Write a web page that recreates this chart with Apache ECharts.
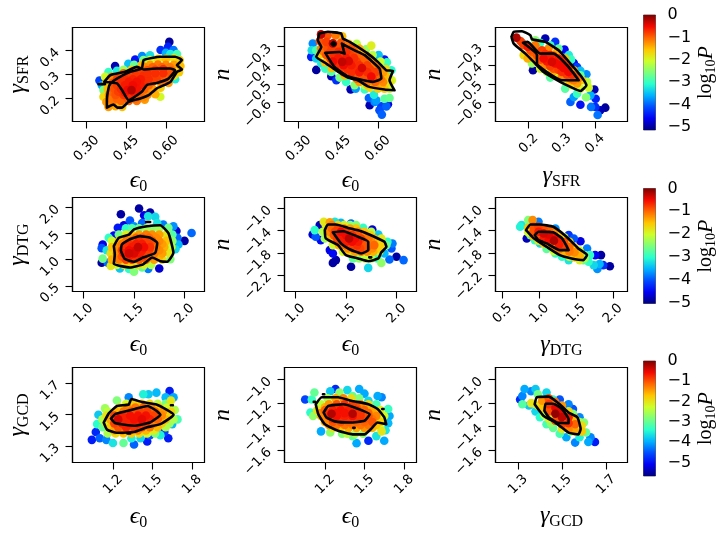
<!DOCTYPE html>
<html>
<head>
<meta charset="utf-8">
<style>html,body{margin:0;background:#fff}#chart{width:722px;height:534px}</style>
<script src="https://cdn.jsdelivr.net/npm/echarts@6/dist/echarts.min.js"></script>
</head>
<body>
<div id="chart"></div>
<script>
// points are [x, y, log10P]
const p1 = [[.613,.436,-5],[.608,.415,-4.4],[.58,.402,-4.3],[.629,.402,-3.9],[.6,.39,-3.6],[.54,.38,-3.3],[.51,.377,-3.8],[.642,.385,-2.9],[.617,.385,-3.2],
  [.484,.362,-4.5],[.515,.36,-2.6],[.54,.36,-2],[.57,.365,-1.7],[.6,.365,-1.5],[.63,.368,-1.8],[.652,.36,-1.6],
  [.458,.345,-3.5],[.408,.335,-4.9],[.48,.34,-2.7],[.51,.34,-1.5],[.54,.34,-1.3],[.57,.342,-1.1],[.6,.34,-1.2],[.63,.34,-1.3],[.655,.335,-1.5],
  [.383,.31,-3],[.415,.315,-3.2],[.44,.32,-2.4],[.47,.32,-1.6],[.5,.318,-1.1],[.53,.318,-.9],[.56,.32,-.8],[.59,.322,-.7],[.62,.318,-1],[.65,.31,-1.6],
  [.37,.29,-2],[.395,.29,-1.2],[.425,.295,-1],[.455,.295,-.8],[.485,.295,-.75],[.515,.295,-.7],[.545,.295,-.8],[.575,.295,-.9],[.605,.295,-1],[.635,.28,-3.2],[.63,.295,-1.7],
  [.349,.275,-4.2],[.358,.255,-3.6],[.375,.265,-1.6],[.4,.265,-.9],[.43,.27,-.7],[.46,.27,-.6],[.49,.27,-.55],[.52,.27,-.7],[.55,.27,-.9],[.58,.27,-1.1],[.61,.265,-1.3],
  [.364,.235,-2.6],[.38,.24,-1.5],[.405,.24,-.9],[.43,.24,-.7],[.455,.235,-.5],[.47,.235,-.25],[.49,.24,-.55],[.52,.24,-1],[.55,.24,-1.3],[.58,.245,-1.6],
  [.364,.207,-1.7],[.385,.215,-1.2],[.41,.215,-.9],[.44,.215,-.75],[.47,.212,-.7],[.5,.215,-1],[.53,.215,-1.2],[.56,.218,-1.4],[.579,.207,-2],
  [.375,.185,-1.3],[.4,.19,-1.1],[.43,.19,-1],[.46,.19,-1],[.49,.19,-1.1],[.52,.195,-1.3],[.383,.165,-1.3],[.41,.168,-1.4],[.435,.165,-1.5],
  [.415,.28,-.8],[.445,.28,-.7],[.475,.28,-.65],[.505,.28,-.6],[.535,.28,-.7],[.565,.28,-.8],[.595,.28,-1],
  [.415,.255,-.8],[.445,.255,-.6],[.475,.255,-.5],[.505,.255,-.6],[.535,.255,-1],[.395,.228,-1],[.42,.228,-.8],[.445,.225,-.6],[.48,.225,-.6],[.51,.228,-1.1],
  [.44,.305,-1],[.47,.305,-.9],[.5,.305,-.8],[.53,.305,-.7],[.56,.305,-.7],[.59,.305,-.7],[.62,.305,-.9],[.52,.33,-1.2],[.55,.33,-1],[.585,.33,-1],[.615,.33,-1.1],
  [.39,.2,-1.1],[.415,.2,-1],[.455,.2,-.9],[.485,.2,-1],[.515,.205,-1.2]]
const p2 = [[.615,-.664,-4],[.606,-.641,-4.1],[.632,-.62,-4],[.613,-.62,-4.2],[.569,-.614,-4.9],[.638,-.609,-4.7],[.566,-.575,-4],[.588,-.596,-3.8],[.594,-.588,-3.7],[.585,-.557,-3.2],[.625,-.579,-2.8],[.644,-.575,-2.7],
  [.367,-.425,-5],[.424,-.459,-4.9],[.443,-.48,-4.3],[.497,-.529,-4.9],[.516,-.525,-3.7],[.55,-.53,-3],[.575,-.295,-1.9],[.603,-.346,-3.5],[.625,-.37,-4.5],[.634,-.384,-3],[.651,-.427,-3.1],[.653,-.48,-2],[.644,-.525,-2],
  [.354,-.284,-3.8],[.367,-.32,-2.9],[.35,-.32,-3.3],[.348,-.355,-4.4],[.367,-.364,-3.4],[.386,-.391,-3.2],[.401,-.418,-3],[.424,-.436,-2.8],[.455,-.466,-2.6],[.48,-.489,-3],[.512,-.507,-2.5],[.55,-.507,-2.2],[.6,-.52,-1.9],
  [.385,-.235,-.25],[.41,-.24,-.9],[.44,-.24,-1.1],[.465,-.245,-1.5],[.38,-.27,-.9],[.405,-.275,-.8],[.43,-.283,-.3],[.46,-.28,-.9],[.49,-.285,-1.6],[.52,-.285,-2.2],
  [.385,-.31,-1.2],[.41,-.31,-.9],[.44,-.31,-.9],[.47,-.31,-.8],[.5,-.31,-.9],[.53,-.31,-1.4],[.555,-.315,-2.5],
  [.38,-.345,-1.6],[.405,-.345,-.9],[.435,-.345,-.7],[.465,-.345,-.8],[.495,-.345,-.8],[.525,-.345,-1],[.555,-.345,-1.3],[.58,-.345,-2.2],
  [.4,-.385,-1.5],[.43,-.38,-.5],[.465,-.382,-.3],[.49,-.378,-.4],[.52,-.38,-.8],[.55,-.38,-1],[.58,-.38,-1.3],[.61,-.38,-2.1],
  [.425,-.415,-1.5],[.455,-.42,-.8],[.485,-.42,-.7],[.515,-.42,-.7],[.54,-.415,-.4],[.57,-.42,-.8],[.6,-.42,-1.1],[.63,-.42,-1.7],
  [.475,-.455,-1.5],[.505,-.455,-.9],[.54,-.455,-.9],[.575,-.46,-.5],[.6,-.46,-1],[.63,-.455,-1.5],
  [.53,-.49,-1.3],[.56,-.49,-1.1],[.59,-.49,-1],[.62,-.49,-1.2],[.645,-.49,-1.8],[.57,-.52,-1.7],[.6,-.525,-1.6],[.625,-.525,-1.6],
  [.395,-.295,-1],[.425,-.295,-.8],[.455,-.295,-.9],[.485,-.295,-1.1],[.395,-.328,-1.1],[.42,-.328,-.8],[.45,-.328,-.7],[.48,-.328,-.7],[.51,-.328,-.9],[.54,-.328,-1.5],
  [.42,-.362,-.8],[.45,-.362,-.6],[.48,-.362,-.6],[.51,-.362,-.7],[.54,-.362,-1],[.57,-.362,-1.4],[.44,-.4,-.7],[.47,-.4,-.5],[.5,-.4,-.6],[.53,-.4,-.7],[.56,-.4,-.8],[.59,-.4,-1.1],
  [.47,-.437,-.9],[.5,-.437,-.7],[.53,-.437,-.6],[.56,-.437,-.7],[.59,-.437,-.8],[.62,-.437,-1.3],[.52,-.472,-1],[.55,-.472,-.9],[.58,-.472,-.8],[.61,-.472,-1.1],[.56,-.505,-1.5],[.59,-.505,-1.3],[.615,-.505,-1.4]]
const p3 = [[.431,-.627,-5],[.416,-.641,-4.9],[.408,-.666,-3.9],[.401,-.623,-4.3],[.388,-.623,-3.9],[.402,-.579,-4.4],[.398,-.53,-4.9],[.356,-.611,-4.5],[.326,-.596,-4],[.336,-.57,-3.7],[.373,-.571,-2.5],[.386,-.561,-3.6],[.381,-.52,-2],[.374,-.448,-3.8],
  [.213,-.427,-5],[.25,-.257,-4.9],[.28,-.275,-4.3],[.308,-.316,-4.6],[.336,-.388,-4.6],[.346,-.409,-4.2],[.356,-.43,-3.5],[.321,-.346,-3.2],[.346,-.552,-3],
  [.163,-.252,-.2],[.175,-.27,-.8],[.185,-.293,-.9],[.197,-.302,-.6],[.185,-.346,-1.7],[.197,-.364,-1.4],[.21,-.391,-2.4],[.21,-.329,-1],[.22,-.293,-1.1],[.225,-.346,-.9],[.225,-.382,-1.5],[.235,-.418,-2],
  [.24,-.32,-.8],[.245,-.364,-.5],[.25,-.4,-1.2],[.255,-.436,-2.3],[.26,-.311,-1.2],[.265,-.346,-.6],[.27,-.382,-.4],[.275,-.418,-.9],[.28,-.454,-1.9],[.285,-.329,-1.4],[.29,-.364,-.6],[.295,-.4,-.5],[.3,-.436,-.7],[.305,-.48,-1.8],
  [.31,-.364,-1.5],[.315,-.4,-.8],[.32,-.436,-.5],[.326,-.471,-1],[.33,-.507,-2],[.336,-.427,-1.5],[.34,-.462,-.9],[.346,-.498,-1.3],[.356,-.525,-2],[.361,-.48,-1.6],
  [.22,-.266,-2.5],[.235,-.28,-3],[.265,-.293,-3],[.29,-.311,-2.8],[.328,-.37,-3],[.356,-.454,-2.7],[.376,-.489,-2.2],[.31,-.525,-2.8],[.265,-.466,-2.8],
  [.18,-.28,-.8],[.205,-.32,-.9],[.215,-.36,-1.2],[.235,-.33,-.8],[.235,-.37,-.9],[.25,-.34,-.7],[.255,-.38,-.6],[.265,-.405,-.8],[.275,-.35,-.8],[.28,-.39,-.5],[.29,-.425,-.8],
  [.3,-.375,-.7],[.305,-.415,-.5],[.315,-.45,-.8],[.32,-.415,-.7],[.33,-.45,-.7],[.335,-.48,-1.1],[.35,-.47,-1.1],[.24,-.39,-1.3],[.27,-.44,-1.4],[.3,-.46,-1.2],[.325,-.49,-1.5]]
const p4 = [[1.55,1.98,-4.9],[1.37,1.87,-4.9],[1.66,1.9,-4.9],[1.6,1.85,-4.6],[1.46,1.75,-4],[1.71,1.82,-3.3],[1.64,1.83,-3.2],[1.73,1.7,-3.2],[1.58,1.7,-3.9],[1.79,1.67,-3.8],[1.89,1.64,-3.7],[1.4,1.66,-4.6],[1.34,1.61,-4.4],[1.5,1.64,-3.7],[2.07,1.51,-3.9],[1.92,1.55,-4.7],[1.84,1.61,-2.6],[2,1.36,-4.9],[1.93,1.42,-3.9],[1.94,1.29,-3.5],[1.91,1.2,-3.3],[1.75,.83,-4.7],[1.3,1.46,-4.5],[1.25,1.42,-3],[1.19,1.29,-4.6],[1.23,1.18,-3.2],[1.18,1.22,-4],[1.19,1.02,-2.6],[1.18,.94,-4.9],[1.24,.94,-3.9],[1.27,.88,-1.8],[1.36,.83,-3.4],[1.5,.77,-2.5],[1.45,.82,-3],[1.64,.82,-3.8],[1.58,.85,-2.7],[1.86,1.01,-2.5],
  [1.42,1.6,-3],[1.48,1.6,-2.8],[1.55,1.6,-2.6],[1.62,1.6,-2.3],[1.68,1.6,-2.4],[1.75,1.6,-2.3],
  [1.35,1.48,-2.6],[1.42,1.48,-1.9],[1.48,1.48,-1.5],[1.55,1.48,-1.3],[1.62,1.48,-1.1],[1.68,1.48,-1.2],[1.75,1.48,-1.3],[1.82,1.48,-1.8],[1.88,1.48,-2.8],
  [1.28,1.36,-2],[1.35,1.36,-1.5],[1.42,1.36,-1.1],[1.48,1.36,-.9],[1.55,1.36,-.7],[1.62,1.36,-.8],[1.68,1.36,-.9],[1.75,1.36,-1.2],[1.82,1.36,-1.5],[1.88,1.36,-2.4],
  [1.28,1.24,-1.5],[1.35,1.24,-1.2],[1.42,1.24,-.7],[1.48,1.24,-.6],[1.54,1.24,-.3],[1.6,1.24,-.5],[1.66,1.24,-.7],[1.72,1.24,-1.1],[1.8,1.24,-1.4],[1.87,1.24,-2],
  [1.27,1.12,-1.7],[1.33,1.12,-1.2],[1.4,1.12,-.6],[1.45,1.12,-.35],[1.5,1.12,-.4],[1.56,1.12,-.6],[1.62,1.12,-.8],[1.7,1.12,-1.1],[1.78,1.12,-1.3],[1.85,1.12,-1.8],
  [1.28,1,-1.4],[1.35,1,-1.1],[1.42,1,-.8],[1.48,1,-.8],[1.55,1,-.9],[1.62,1,-1],[1.7,1,-1.3],[1.78,1,-1.7],
  [1.33,.9,-2],[1.4,.9,-1.6],[1.47,.9,-1.6],[1.54,.9,-1.7],[1.6,.9,-1.9],[1.67,.9,-2.2],
  [1.45,1.42,-1.3],[1.52,1.42,-1],[1.58,1.42,-.9],[1.65,1.42,-1],[1.72,1.42,-1.2],[1.38,1.3,-1.1],[1.45,1.3,-.7],[1.52,1.3,-.6],[1.58,1.3,-.6],[1.65,1.3,-.8],[1.72,1.3,-1.1],[1.78,1.3,-1.3],
  [1.38,1.18,-.8],[1.45,1.18,-.5],[1.52,1.18,-.45],[1.58,1.18,-.6],[1.65,1.18,-.8],[1.75,1.18,-1.2],[1.38,1.06,-.9],[1.45,1.06,-.6],[1.52,1.06,-.7],[1.59,1.06,-.8],[1.66,1.06,-1.1],[1.75,1.06,-1.4]]
const p5 = [[2.07,-1.93,-3.9],[2,-1.87,-4.9],[1.93,-1.92,-3.9],[1.37,-1.98,-4.9],[1.4,-1.93,-4.9],[1.55,-2.05,-4.9],[1.72,-2.07,-3.3],[1.85,-1.98,-2.4],[1.76,-1.38,-4.7],[1.19,-1.39,-3],[1.17,-1.47,-4.7],[1.2,-1.51,-4],[1.34,-1.75,-4.6],[1.37,-1.81,-4.5],[1.96,-1.63,-3.8],[1.95,-1.72,-4],[1.88,-1.81,-3.5],[1.25,-1.57,-4.5],[1.24,-1.3,-4.8],[1.55,-1.27,-3.9],[1.45,-1.26,-3.5],[1.39,-1.24,-3.2],[1.67,-1.35,-3],[1.82,-1.47,-3.4],[1.91,-1.6,-3],[1.28,-1.24,-1.8],[1.34,-1.25,-1.3],
  [1.3,-1.3,-1.9],[1.36,-1.3,-1.1],[1.42,-1.3,-1.6],[1.48,-1.3,-1.9],[1.54,-1.3,-2.4],[1.6,-1.3,-2.5],
  [1.27,-1.42,-2.2],[1.33,-1.42,-1.2],[1.39,-1.42,-.8],[1.45,-1.42,-.5],[1.5,-1.42,-.8],[1.56,-1.42,-1],[1.62,-1.42,-1.2],[1.68,-1.42,-1.5],[1.75,-1.42,-2.2],
  [1.29,-1.54,-2.3],[1.35,-1.54,-1.4],[1.41,-1.54,-.8],[1.47,-1.54,-.6],[1.53,-1.54,-.25],[1.59,-1.54,-.5],[1.65,-1.54,-.8],[1.72,-1.54,-1.1],[1.78,-1.54,-1.4],[1.85,-1.54,-1.8],
  [1.37,-1.66,-2],[1.43,-1.66,-1.4],[1.49,-1.66,-1],[1.55,-1.66,-.8],[1.61,-1.66,-.7],[1.67,-1.66,-.9],[1.73,-1.66,-1.1],[1.78,-1.66,-1],[1.85,-1.66,-1.6],[1.9,-1.66,-2.6],
  [1.47,-1.78,-2],[1.53,-1.78,-1.6],[1.59,-1.78,-1.3],[1.65,-1.78,-1.1],[1.71,-1.78,-1.2],[1.77,-1.78,-1.4],[1.83,-1.78,-1.9],
  [1.57,-1.9,-2.7],[1.63,-1.9,-2.4],[1.69,-1.9,-2.1],[1.75,-1.9,-2.2],[1.81,-1.9,-3],
  [1.36,-1.36,-1],[1.42,-1.36,-.8],[1.48,-1.36,-1.1],[1.54,-1.36,-1.3],[1.6,-1.36,-1.5],[1.38,-1.48,-.9],[1.44,-1.48,-.6],[1.5,-1.48,-.5],[1.56,-1.48,-.7],[1.62,-1.48,-.9],[1.68,-1.48,-1.2],[1.74,-1.48,-1.6],
  [1.44,-1.6,-.9],[1.5,-1.6,-.6],[1.56,-1.6,-.5],[1.62,-1.6,-.6],[1.68,-1.6,-.9],[1.75,-1.6,-1.2],[1.82,-1.6,-1.6],[1.52,-1.72,-1.2],[1.58,-1.72,-.9],[1.64,-1.72,-.8],[1.7,-1.72,-.9],[1.76,-1.72,-1.2],[1.82,-1.72,-1.6]]
const p6 = [[1.96,-2.04,-4.9],[1.84,-1.84,-4.9],[1.76,-1.84,-4.5],[1.82,-2,-3.5],[1.87,-2.02,-4.2],[1.74,-2.02,-3.3],[1.79,-2.09,-3.7],[.83,-1.54,-4.8],[1.56,-1.59,-4.6],[1.47,-1.54,-4],[.76,-1.3,-3.2],[.74,-1.33,-3.1],[.85,-1.21,-2.5],[.91,-1.21,-1.2],[.99,-1.24,-3.8],[1.22,-1.36,-3.7],[1.4,-1.48,-4.2],[1.65,-1.72,-3.8],[1.67,-1.96,-3],[1.6,-1.93,-2.7],[1.69,-1.84,-3],[1.4,-1.93,-3.2],[1.31,-1.87,-3],[1.22,-1.81,-3],[1.1,-1.73,-2.7],[1.01,-1.63,-3.3],[.94,-1.57,-3],[.88,-1.48,-2.7],
  [.85,-1.35,-1.5],[.85,-1.43,-2],[.92,-1.33,-.9],[.92,-1.42,-.9],[.92,-1.5,-1.5],[.99,-1.33,-.8],[.99,-1.42,-.6],[.99,-1.5,-.9],[.99,-1.58,-1.8],[1.06,-1.36,-.9],[1.06,-1.45,-.35],[1.06,-1.54,-.6],[1.06,-1.63,-1.5],[1.13,-1.38,-1],[1.13,-1.47,-.4],[1.13,-1.56,-.5],[1.13,-1.65,-1.2],
  [1.2,-1.42,-1.2],[1.2,-1.5,-.5],[1.2,-1.58,-.2],[1.2,-1.68,-1.1],[1.2,-1.77,-2],[1.27,-1.47,-1.5],[1.27,-1.56,-.6],[1.27,-1.65,-.6],[1.27,-1.74,-1.1],[1.34,-1.52,-2],[1.34,-1.6,-.9],[1.34,-1.69,-.8],[1.34,-1.79,-1.4],
  [1.41,-1.6,-1.7],[1.41,-1.69,-1],[1.41,-1.78,-1.1],[1.41,-1.87,-1.9],[1.48,-1.7,-1.6],[1.48,-1.79,-1.2],[1.48,-1.88,-1.5],[1.55,-1.76,-2],[1.55,-1.85,-1.4],[1.55,-1.93,-1.9],[1.62,-1.84,-2.5],[1.62,-1.89,-2.3]]
const p7 = [[1.04,1.34,-4.9],[1.63,1.65,-4.9],[1.66,1.61,-4],[1.6,1.61,-3.9],[1.53,1.64,-3.9],[1.62,1.35,-4.9],[1.59,1.39,-4.6],[1.46,1.33,-4.9],[1.36,1.31,-4.4],[1.28,1.32,-3],[1.2,1.32,-3.6],[1.15,1.34,-4.2],[1.1,1.35,-4.4],[1.09,1.5,-3.8],[1.08,1.44,-3.4],[1.07,1.39,-4.8],[1.69,1.47,-3.2],[1.67,1.53,-2.5],[1.65,1.44,-3.9],[1.47,1.63,-3.8],[1.43,1.63,-3.5],[1.32,1.61,-4.2],[1.23,1.59,-2.8],[1.14,1.54,-2.6],[1.56,1.37,-3.5],[1.48,1.37,-4.5],[1.41,1.35,-3.7],[1.34,1.35,-3.5],[1.64,1.59,-2],
  [1.3,1.57,-2.2],[1.36,1.57,-1.8],[1.42,1.57,-1.7],[1.48,1.57,-1.9],[1.54,1.57,-2.4],[1.6,1.57,-2.9],
  [1.16,1.52,-2.4],[1.22,1.52,-1.6],[1.28,1.52,-1.2],[1.34,1.52,-1],[1.4,1.52,-.9],[1.46,1.52,-.9],[1.52,1.52,-1.1],[1.58,1.52,-1.4],[1.64,1.52,-1.8],
  [1.12,1.47,-2.5],[1.18,1.47,-1.5],[1.24,1.47,-.4],[1.3,1.47,-.7],[1.36,1.47,-.6],[1.42,1.47,-.5],[1.48,1.47,-.7],[1.54,1.47,-1.1],[1.6,1.47,-1.6],[1.66,1.47,-2.5],
  [1.12,1.42,-3],[1.18,1.42,-1.7],[1.24,1.42,-1],[1.3,1.42,-.7],[1.36,1.42,-.8],[1.42,1.42,-.9],[1.48,1.42,-1.2],[1.54,1.42,-1.6],[1.6,1.42,-2.5],
  [1.16,1.38,-2.5],[1.22,1.38,-1.9],[1.28,1.38,-1.7],[1.34,1.38,-1.7],[1.4,1.38,-1.9],[1.46,1.38,-2.2],[1.52,1.38,-2.8],
  [1.25,1.545,-1.8],[1.31,1.545,-1.3],[1.37,1.545,-1.2],[1.43,1.545,-1.1],[1.49,1.545,-1.3],[1.55,1.545,-1.7],[1.61,1.545,-2.2],
  [1.15,1.495,-2],[1.21,1.495,-.9],[1.27,1.495,-.7],[1.33,1.495,-.6],[1.39,1.495,-.6],[1.45,1.495,-.6],[1.51,1.495,-.9],[1.57,1.495,-1.3],[1.63,1.495,-1.9],
  [1.15,1.445,-2.1],[1.21,1.445,-.9],[1.27,1.445,-.7],[1.33,1.445,-.7],[1.39,1.445,-.7],[1.45,1.445,-.9],[1.51,1.445,-1.3],[1.57,1.445,-1.8],[1.63,1.445,-2.6],
  [1.21,1.4,-1.5],[1.27,1.4,-1.2],[1.33,1.4,-1.1],[1.39,1.4,-1.3],[1.45,1.4,-1.6],[1.51,1.4,-2.1]]
const p8 = [[1.05,-1.17,-4.6],[1.28,-1.08,-4.8],[1.17,-1.44,-4],[1.24,-1.45,-2.7],[1.33,-1.46,-2.8],[1.6,-1.14,-4],[1.63,-1.15,-4.2],[1.46,-1.08,-4],[1.37,-1.09,-3.7],[1.24,-1.1,-3.8],[1.12,-1.11,-3],[1.1,-1.17,-3.3],[1.09,-1.28,-3.4],[1.11,-1.31,-2.7],[1.44,-1.54,-4],[1.53,-1.52,-4.8],[1.65,-1.52,-4],[1.5,-1.12,-4],[1.53,-1.18,-3.7],[1.68,-1.25,-3.3],[1.69,-1.31,-4],[1.68,-1.37,-3.9],[1.66,-1.43,-3.6],[1.63,-1.44,-2],[1.59,-1.48,-3.6],[1.41,-1.48,-3],[1.31,-1.11,-2.7],[1.41,-1.14,-3],[1.59,-1.21,-3.2],
  [1.22,-1.16,-2.5],[1.28,-1.16,-1.5],[1.34,-1.16,-1.3],[1.4,-1.16,-1.9],[1.46,-1.16,-2.8],
  [1.17,-1.21,-2.4],[1.23,-1.21,-1.4],[1.29,-1.21,-1],[1.35,-1.21,-.8],[1.41,-1.21,-.9],[1.47,-1.21,-1.3],[1.53,-1.21,-1.9],
  [1.14,-1.26,-2],[1.2,-1.26,-1.1],[1.26,-1.26,-.7],[1.32,-1.26,-.6],[1.38,-1.26,-.7],[1.44,-1.26,-.8],[1.5,-1.26,-1.1],[1.56,-1.26,-1.5],[1.62,-1.26,-2.1],[1.25,-1.29,-.25],[1.41,-1.29,-.25],
  [1.17,-1.31,-1.6],[1.23,-1.31,-.8],[1.29,-1.31,-.6],[1.35,-1.31,-.7],[1.41,-1.31,-.6],[1.47,-1.31,-.8],[1.53,-1.31,-1],[1.59,-1.31,-1.3],[1.65,-1.31,-2.2],
  [1.2,-1.36,-1.6],[1.26,-1.36,-1],[1.32,-1.36,-1],[1.38,-1.36,-1.1],[1.44,-1.36,-1.1],[1.5,-1.36,-1.1],[1.56,-1.36,-1],[1.62,-1.36,-1.8],
  [1.26,-1.41,-2],[1.32,-1.41,-1.7],[1.38,-1.41,-1.5],[1.44,-1.41,-1.5],[1.5,-1.41,-1.4],[1.56,-1.41,-1.6],[1.62,-1.41,-2.3],[1.37,-1.46,-2.4],[1.43,-1.46,-2.5],[1.49,-1.46,-2.7],
  [1.2,-1.235,-1.6],[1.26,-1.235,-1],[1.32,-1.235,-.8],[1.38,-1.235,-.8],[1.44,-1.235,-1],[1.5,-1.235,-1.5],[1.17,-1.285,-1.3],[1.23,-1.285,-.8],[1.29,-1.285,-.6],[1.35,-1.285,-.6],[1.47,-1.285,-.8],[1.53,-1.285,-1.1],[1.59,-1.285,-1.6],
  [1.2,-1.335,-1.3],[1.26,-1.335,-.8],[1.32,-1.335,-.8],[1.38,-1.335,-.8],[1.44,-1.335,-.8],[1.5,-1.335,-1],[1.56,-1.335,-1.2],[1.23,-1.385,-1.4],[1.29,-1.385,-1.2],[1.35,-1.385,-1.2],[1.41,-1.385,-1.2],[1.47,-1.385,-1.2],[1.53,-1.385,-1.2],[1.59,-1.385,-1.7]]
const p9 = [[1.33,-1.08,-4],[1.32,-1.14,-4.2],[1.31,-1.17,-4.8],[1.32,-1.21,-3.1],[1.35,-1.22,-3.8],[1.38,-1.08,-3.8],[1.36,-1.1,-4.2],[1.43,-1.11,-3.7],[1.55,-1.25,-4.5],[1.58,-1.32,-4.2],[1.6,-1.365,-2.8],[1.38,-1.27,-3.7],[1.4,-1.32,-3.4],[1.43,-1.38,-3.2],[1.46,-1.41,-3],[1.49,-1.46,-3.2],[1.52,-1.49,-4],[1.56,-1.535,-4.2],[1.58,-1.49,-3.5],[1.62,-1.53,-4],[1.65,-1.53,-4.9],[1.63,-1.49,-4.2],[1.61,-1.45,-3],[1.39,-1.125,-2.9],[1.36,-1.2,-2],[1.46,-1.17,-3.4],[1.54,-1.44,-2.8],[1.53,-1.21,-4.2],[1.49,-1.17,-4.5],
  [1.41,-1.18,-1.4],[1.41,-1.24,-1.7],[1.44,-1.16,-1],[1.44,-1.21,-.8],[1.44,-1.27,-1],[1.44,-1.33,-2.1],[1.47,-1.19,-1.2],[1.47,-1.24,-.5],[1.47,-1.29,-.1],[1.47,-1.35,-1],[1.5,-1.22,-1.4],[1.5,-1.27,-.5],[1.5,-1.32,-.3],[1.5,-1.38,-.9],
  [1.53,-1.27,-1.9],[1.53,-1.32,-.7],[1.53,-1.37,-.8],[1.53,-1.42,-1.3],[1.56,-1.33,-1.6],[1.56,-1.38,-1.1],[1.56,-1.44,-1.5],[1.59,-1.39,-1.9],[1.59,-1.44,-1.7],[1.39,-1.22,-2],[1.42,-1.3,-2.4],[1.45,-1.37,-2.7],[1.5,-1.42,-2],[1.55,-1.29,-2.8],[1.58,-1.36,-2.6]]

// black contours, each panel has an outer and an inner loop, some have specks
const c1 = [[[.377,.162],[.402,.175],[.417,.162],[.434,.162],[.459,.186],[.503,.2],[.535,.214],[.566,.242],[.617,.269],[.642,.311],[.661,.321],[.642,.339],[.661,.36],[.635,.374],[.579,.374],[.516,.36],[.509,.325],[.465,.311],[.415,.283],[.39,.262],[.383,.242],[.377,.193]],
  [[.367,.269],[.39,.297],[.446,.311],[.49,.332],[.516,.321],[.566,.325],[.617,.325],[.635,.318],[.61,.283],[.566,.265],[.528,.256],[.509,.228],[.459,.193],[.434,.235],[.415,.263]],
  [[.345,.26],[.37,.26]]]
const c2 = [[[.379,-.23],[.411,-.221],[.461,-.23],[.468,-.257],[.493,-.275],[.524,-.302],[.562,-.338],[.6,-.382],[.632,-.427],[.657,-.43],[.644,-.48],[.663,-.534],[.625,-.53],[.562,-.513],[.524,-.48],[.487,-.466],[.442,-.427],[.405,-.391],[.367,-.355],[.386,-.302],[.373,-.266]],
  [[.401,-.334],[.455,-.329],[.474,-.338],[.464,-.284],[.512,-.32],[.55,-.346],[.606,-.418],[.613,-.471],[.581,-.489],[.518,-.471],[.48,-.454],[.436,-.409]],
  [[.425,-.286],[.432,-.276],[.44,-.286],[.432,-.296]]]
const c3 = [[[.148,-.248],[.155,-.221],[.18,-.218],[.205,-.239],[.21,-.261],[.25,-.275],[.29,-.32],[.326,-.391],[.356,-.454],[.374,-.507],[.356,-.538],[.326,-.516],[.295,-.489],[.245,-.436],[.22,-.391],[.19,-.338],[.155,-.284]],
  [[.183,-.28],[.197,-.275],[.235,-.338],[.275,-.338],[.316,-.4],[.351,-.48],[.3,-.48],[.255,-.436],[.225,-.391],[.225,-.346]]]
const c4 = [[[1.3,1.26],[1.35,1.42],[1.45,1.48],[1.5,1.58],[1.63,1.64],[1.76,1.66],[1.84,1.51],[1.87,1.32],[1.89,1.13],[1.83,.96],[1.76,.97],[1.68,1.04],[1.59,.91],[1.46,.85],[1.3,.92],[1.31,1.1]],
  [[1.37,1.17],[1.38,1.29],[1.46,1.39],[1.56,1.45],[1.66,1.42],[1.73,1.32],[1.71,1.13],[1.59,1.04],[1.5,.96],[1.41,1.01]],
  [[1.62,1.72],[1.66,1.72]]]
const c5 = [[[1.29,-1.39],[1.32,-1.29],[1.4,-1.29],[1.52,-1.35],[1.65,-1.41],[1.78,-1.51],[1.88,-1.6],[1.9,-1.69],[1.85,-1.79],[1.82,-1.9],[1.72,-1.95],[1.62,-1.9],[1.5,-1.84],[1.42,-1.66],[1.3,-1.54]],
  [[1.37,-1.43],[1.47,-1.41],[1.62,-1.51],[1.72,-1.6],[1.72,-1.75],[1.65,-1.81],[1.53,-1.73],[1.45,-1.63]],
  [[1.73,-1.88],[1.75,-1.88]]]
const c6 = [[[.82,-1.39],[.88,-1.29],[1.01,-1.29],[1.19,-1.33],[1.37,-1.51],[1.53,-1.72],[1.65,-1.84],[1.6,-1.93],[1.44,-1.9],[1.28,-1.84],[1.1,-1.69],[.92,-1.53]],
  [[.94,-1.48],[.99,-1.42],[1.19,-1.43],[1.31,-1.54],[1.4,-1.75],[1.28,-1.75],[1.1,-1.63],[.99,-1.57]]]
const c7 = [[[1.13,1.45],[1.17,1.51],[1.23,1.555],[1.32,1.565],[1.34,1.6],[1.42,1.58],[1.53,1.565],[1.61,1.53],[1.66,1.5],[1.635,1.48],[1.56,1.44],[1.46,1.42],[1.36,1.39],[1.23,1.385],[1.155,1.405]],
  [[1.185,1.475],[1.22,1.505],[1.36,1.535],[1.46,1.555],[1.53,1.525],[1.56,1.5],[1.48,1.45],[1.36,1.43],[1.22,1.445]],
  [[1.31,1.38],[1.33,1.38]],[[1.64,1.56],[1.655,1.56]]]
const c8 = [[[1.13,-1.21],[1.175,-1.15],[1.3,-1.15],[1.4,-1.18],[1.53,-1.21],[1.6,-1.25],[1.65,-1.32],[1.665,-1.38],[1.6,-1.365],[1.55,-1.42],[1.5,-1.465],[1.41,-1.465],[1.3,-1.435],[1.2,-1.38],[1.15,-1.295]],
  [[1.19,-1.28],[1.225,-1.225],[1.34,-1.21],[1.43,-1.24],[1.54,-1.295],[1.5,-1.35],[1.39,-1.365],[1.275,-1.355],[1.21,-1.32]],
  [[1.115,-1.19],[1.125,-1.19]],[[1.185,-1.125],[1.195,-1.125]],[[1.635,-1.25],[1.645,-1.25]],[[1.415,-1.41],[1.425,-1.41]]]
const c9 = [[[1.376,-1.21],[1.386,-1.15],[1.44,-1.145],[1.49,-1.21],[1.53,-1.28],[1.57,-1.32],[1.585,-1.42],[1.575,-1.465],[1.53,-1.45],[1.47,-1.365],[1.417,-1.31]],
  [[1.42,-1.265],[1.426,-1.205],[1.46,-1.205],[1.5,-1.25],[1.53,-1.337],[1.53,-1.37],[1.477,-1.365],[1.44,-1.32]]]

// tick labels
const ticksEps1 = ['0.30', '0.45', '0.60']
const ticksEps2 = ['1.0', '1.5', '2.0']
const ticksEps3 = ['1.2', '1.5', '1.8']
const ticksSfr = ['0.2', '0.3', '0.4']
const ticksDtgX = ['0.5', '1.0', '1.5', '2.0']
const ticksDtgY = ['0.5', '1.0', '1.5', '2.0']
const ticksGcd = ['1.3', '1.5', '1.7']
const ticksN1 = ['-0.6', '-0.5', '-0.4', '-0.3']
const ticksN2 = ['-2.2', '-1.8', '-1.4', '-1.0']
const ticksN3 = ['-1.6', '-1.4', '-1.2', '-1.0']
const ticksBar = [-5, -4, -3, -2, -1, 0]

const jet = ['#00007f', '#0000f4', '#004cff', '#00b2ff', '#29ffce', '#7cff7c', '#ceff29', '#ffc600', '#ff6800', '#f40900', '#7f0000']
const barMins = [-5.13, -5.05, -5.66]

const nameEps = '{g|ϵ}{s|0}'
const nameN = '{g|n}'
const nameSfr = '{g|γ}{r|SFR}'
const nameDtg = '{g|γ}{r|DTG}'
const nameGcd = '{g|γ}{r|GCD}'

const colLeft = [72.5, 284.5, 495.5]
const rowTop = [27.5, 197.5, 367.5]
const rowHeight = [94, 94, 95]
const panelWidth = 132

const panels = [
  { r: 0, c: 0, data: p1, lines: c1, x: [.247, .746], y: [.104, .496], xt: ticksEps1, yt: ticksSfr, xn: nameEps, yn: nameSfr, gap: 46 },
  { r: 0, c: 1, data: p2, lines: c2, x: [.247, .746], y: [-.701, -.198], xt: ticksEps1, yt: ticksN1, xn: nameEps, yn: nameN, gap: 46 },
  { r: 0, c: 2, data: p3, lines: c3, x: [.1, .498], y: [-.701, -.198], xt: ticksSfr, yt: ticksN1, xn: nameSfr, yn: nameN, gap: 41 },
  { r: 1, c: 0, data: p4, lines: c4, x: [.891, 2.198], y: [.39, 2.19], xt: ticksEps2, yt: ticksDtgY, xn: nameEps, yn: nameDtg, gap: 40 },
  { r: 1, c: 1, data: p5, lines: c5, x: [.891, 2.198], y: [-2.495, -.803], xt: ticksEps2, yt: ticksN2, xn: nameEps, yn: nameN, gap: 40 },
  { r: 1, c: 2, data: p6, lines: c6, x: [.405, 2.2], y: [-2.495, -.803], xt: ticksDtgX, yt: ticksN2, xn: nameDtg, yn: nameN, gap: 40 },
  { r: 2, c: 0, data: p7, lines: c7, x: [.893, 1.895], y: [1.196, 1.8], xt: ticksEps3, yt: ticksGcd, xn: nameEps, yn: nameGcd, gap: 41 },
  { r: 2, c: 1, data: p8, lines: c8, x: [.893, 1.895], y: [-1.704, -.898], xt: ticksEps3, yt: ticksN3, xn: nameEps, yn: nameN, gap: 41 },
  { r: 2, c: 2, data: p9, lines: c9, x: [1.198, 1.798], y: [-1.704, -.898], xt: ticksGcd, yt: ticksN3, xn: nameGcd, yn: nameN, gap: 40 }
]

const minus = s => String(s).replace('-', '\u2212')
const nameRich = {
  g: { fontFamily: 'Liberation Serif', fontStyle: 'italic', fontSize: 24, color: '#000' },
  s: { fontFamily: 'Liberation Serif', fontSize: 16, color: '#000', verticalAlign: 'bottom', lineHeight: 27 },
  r: { fontFamily: 'Liberation Serif', fontSize: 16, color: '#000', verticalAlign: 'bottom', lineHeight: 27 }
}
const tickLabel = { fontFamily: 'DejaVu Sans', fontSize: 13.3, color: '#000', rotate: 45, hideOverlap: false, showMinLabel: true, showMaxLabel: true }

const grid = []
const xAxis = []
const yAxis = []
const series = []
const visualMap = barMins.map(min => ({
  show: false, dimension: 2, min: min, max: 0, seriesIndex: [], inRange: { color: jet }
}))

panels.forEach((p, i) => {
  grid.push({
    left: colLeft[p.c], top: rowTop[p.r], width: panelWidth, height: rowHeight[p.r],
    show: true, borderColor: '#000', borderWidth: 1.2, backgroundColor: '#fff'
  })
  xAxis.push({
    gridIndex: i, type: 'value', min: p.x[0], max: p.x[1], scale: true,
    name: p.xn, nameLocation: 'middle', nameGap: p.gap, nameTextStyle: { rich: nameRich },
    splitLine: { show: false },
    axisLine: { onZero: false, lineStyle: { color: '#000', width: 1.2 } },
    axisTick: { customValues: p.xt.map(Number), length: 7, lineStyle: { color: '#000', width: 1.1 } },
    axisLabel: Object.assign({}, tickLabel, {
      customValues: p.xt.map(Number), align: 'center', verticalAlign: 'middle',
      margin: p.xt[0].length > 3 ? 27 : 22,
      formatter: v => p.xt.find(t => Number(t) === v)
    })
  })
  yAxis.push({
    gridIndex: i, type: 'value', min: p.y[0], max: p.y[1], scale: true,
    name: p.yn, nameLocation: 'middle', nameRotate: 90, nameGap: p.c === 0 ? 41 : 50, nameTextStyle: { rich: nameRich },
    splitLine: { show: false },
    axisLine: { onZero: false, lineStyle: { color: '#000', width: 1.2 } },
    axisTick: { customValues: p.yt.map(Number), length: 7, lineStyle: { color: '#000', width: 1.1 } },
    axisLabel: Object.assign({}, tickLabel, {
      customValues: p.yt.map(Number), margin: 15,
      formatter: v => minus(p.yt.find(t => Number(t) === v))
    })
  })
  visualMap[p.r].seriesIndex.push(series.length)
  series.push({
    type: 'scatter', xAxisIndex: i, yAxisIndex: i, symbolSize: 8.6, z: 2,
    itemStyle: { opacity: 1 },
    data: p.data.slice().sort((a, b) => a[2] - b[2])
  })
  p.lines.forEach(line => {
    series.push({
      type: 'line', xAxisIndex: i, yAxisIndex: i, z: 3, smooth: 0.15, showSymbol: false, silent: true,
      lineStyle: { color: '#000', width: 2.6, cap: 'round', join: 'round' },
      data: line.concat([line[0]])
    })
  })
})

// colorbars, one bar going from 0 down to the bottom of the range
const barTop = [15, 188.5, 361]
barMins.forEach((min, k) => {
  const idx = grid.length
  grid.push({ left: 643.5, top: barTop[k], width: 12, height: 115, show: true, borderColor: '#000', borderWidth: 0.6 })
  xAxis.push({ gridIndex: idx, type: 'category', data: [''], show: false })
  yAxis.push({
    gridIndex: idx, type: 'value', position: 'right', min: min, max: 0,
    name: '{r|log}{s|10}{i|P}', nameLocation: 'middle', nameRotate: 90, nameGap: 37,
    nameTextStyle: { rich: {
      r: { fontFamily: 'Liberation Serif', fontSize: 20, color: '#000' },
      s: { fontFamily: 'Liberation Serif', fontSize: 14, color: '#000', verticalAlign: 'bottom', lineHeight: 24 },
      i: { fontFamily: 'Liberation Serif', fontStyle: 'italic', fontSize: 22, color: '#000' }
    } },
    splitLine: { show: false },
    axisLine: { show: false },
    axisTick: { customValues: ticksBar, length: 7, lineStyle: { color: '#000', width: 1 } },
    axisLabel: { customValues: ticksBar, fontFamily: 'DejaVu Sans', fontSize: 16, color: '#000', margin: 12, formatter: minus }
  })
  series.push({
    type: 'bar', xAxisIndex: idx, yAxisIndex: idx, barWidth: '100%', silent: true,
    itemStyle: {
      color: new echarts.graphic.LinearGradient(0, 0, 0, 1,
        jet.slice().reverse().map((c, j) => ({ offset: j / (jet.length - 1), color: c })))
    },
    data: [min]
  })
})

const chart = echarts.init(document.getElementById('chart'), null, { renderer: 'canvas' })
chart.setOption({
  backgroundColor: '#fff',
  animation: false,
  tooltip: { show: false },
  grid: grid,
  xAxis: xAxis,
  yAxis: yAxis,
  visualMap: visualMap,
  series: series
})
</script>
</body>
</html>
